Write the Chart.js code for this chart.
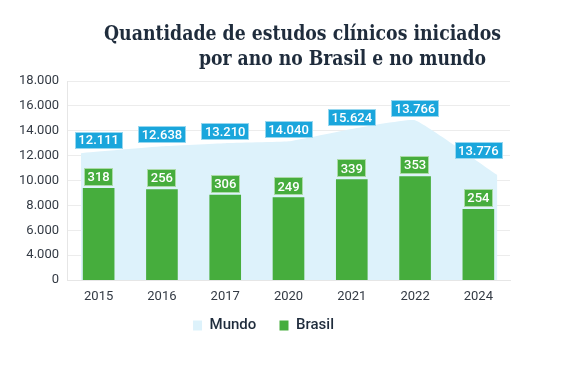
<!DOCTYPE html>
<html>
<head>
<meta charset="utf-8">
<script src="https://cdn.jsdelivr.net/npm/chart.js@4.4.1/dist/chart.umd.min.js"></script>
<style>
  html, body { margin: 0; padding: 0; background: #ffffff; }
  #wrap { position: relative; width: 567px; height: 378px; overflow: hidden; }
  #c { position: absolute; left: 0; top: 0; }
  .t { position: absolute; font-family: "DejaVu Serif", "Liberation Serif", serif; font-weight: bold;
       font-size: 21px; color: #1f2c3c; white-space: nowrap; line-height: 24px; }
</style>
</head>
<body>
<div id="wrap">
  <canvas id="c" width="567" height="378"></canvas>
  <div class="t" id="t1" style="left:104px; top:21px;">Quantidade de estudos clínicos iniciados</div>
  <div class="t" id="t2" style="left:199px; top:46px;">por ano no Brasil e no mundo</div>
</div>
<script>
// ---- data ----
const years = ['2015', '2016', '2017', '2020', '2021', '2022', '2024'];
const brasilBars = [9400, 9300, 8850, 8650, 10100, 10350, 7700];
const brasilLabels = ['318', '256', '306', '249', '339', '353', '254'];
const mundoArea = [12200, 12750, 13000, 13150, 14150, 14850, 10450];
const mundoAreaX = [-0.28, 1, 2, 3, 4, 5, 6.3];
const mundoLabels = ['12.111', '12.638', '13.210', '14.040', '15.624', '13.766', '13.776'];
const yTickValues = [2000, 4000, 6000, 8000, 10000, 12000, 14000, 16000, 18000];
const yTickLabels = ['0', '4.000', '6.000', '8.000', '10.000', '12.000', '14.000', '16.000', '18.000'];

const GREEN = '#46ad3d';
const BLUE = '#1aa6dc';
const AREA = '#ddf2fb';

// fit title widths
function fitWidth(id, w) {
  const el = document.getElementById(id);
  const cur = el.getBoundingClientRect().width;
  el.style.transformOrigin = '0 0';
  el.style.transform = 'scaleX(' + (w / cur) + ')';
}
fitWidth('t1', 397);
fitWidth('t2', 287);

const labelPlugin = {
  id: 'valueLabels',
  afterDatasetsDraw(chart) {
    const ctx = chart.ctx;
    const area = chart.getDatasetMeta(0).data;
    const bars = chart.getDatasetMeta(1).data;
    ctx.save();
    ctx.font = '500 13px Roboto, "Noto Sans", sans-serif';
    ctx.textAlign = 'center';
    ctx.textBaseline = 'middle';
    bars.forEach((bar, i) => {
      const cx = bar.x;
      // green label
      const gt = brasilLabels[i];
      const gw = ctx.measureText(gt).width + 7;
      const gh = 18;
      const gy = bar.y - 2 - gh;
      ctx.fillStyle = GREEN;
      ctx.fillRect(Math.round(cx - gw / 2), Math.round(gy), Math.round(gw), gh);
      ctx.strokeStyle = 'rgba(255,255,255,0.55)';
      ctx.lineWidth = 1;
      ctx.strokeRect(Math.round(cx - gw / 2) + 0.5, Math.round(gy) + 0.5, Math.round(gw) - 1, gh - 1);
      ctx.fillStyle = '#ffffff';
      ctx.fillText(gt, cx, gy + gh / 2 + 1);
      // blue label: anchored on the area edge at this category
      let ay = null;
      for (let k = 0; k < area.length - 1; k++) {
        const p = area[k], q = area[k + 1];
        if (cx >= p.x && cx <= q.x) {
          ay = p.y + (q.y - p.y) * (cx - p.x) / (q.x - p.x);
          break;
        }
      }
      if (ay === null) ay = area[i].y;
      const bt = mundoLabels[i];
      const bw = ctx.measureText(bt).width + 7;
      const bh = 17;
      const by = ay - 3 - bh;
      ctx.fillStyle = BLUE;
      ctx.fillRect(Math.round(cx - bw / 2), Math.round(by), Math.round(bw), bh);
      ctx.strokeStyle = 'rgba(255,255,255,0.55)';
      ctx.strokeRect(Math.round(cx - bw / 2) + 0.5, Math.round(by) + 0.5, Math.round(bw) - 1, bh - 1);
      ctx.fillStyle = '#ffffff';
      ctx.fillText(bt, cx, by + bh / 2 + 1);
    });
    ctx.restore();
  }
};

new Chart(document.getElementById('c'), {
  type: 'bar',
  data: {
    labels: years,
    datasets: [
      {
        type: 'line',
        label: 'Mundo',
        data: mundoArea.map((v, i) => ({ x: mundoAreaX[i], y: v })),
        xAxisID: 'xa',
        yAxisID: 'y',
        fill: 'start',
        backgroundColor: AREA,
        borderColor: AREA,
        borderWidth: 0,
        pointRadius: 0,
        tension: 0.1,
        order: 2
      },
      {
        type: 'bar',
        label: 'Brasil',
        data: brasilBars,
        xAxisID: 'x',
        yAxisID: 'y',
        backgroundColor: GREEN,
        borderColor: GREEN,
        borderWidth: 0,
        grouped: false,
        barPercentage: 0.5,
        categoryPercentage: 1.0,
        order: 1
      }
    ]
  },
  options: {
    responsive: false,
    animation: false,
    events: [],
    layout: { padding: { top: 81, left: 0, right: 40, bottom: 35 } },
    plugins: {
      tooltip: { enabled: false },
      title: { display: false },
      legend: {
        position: 'bottom',
        labels: {
          boxWidth: 9,
          boxHeight: 10,
          padding: 12,
          color: '#1f2c3c',
          generateLabels(chart) {
            const items = Chart.defaults.plugins.legend.labels.generateLabels(chart);
            items.sort((a, b) => a.datasetIndex - b.datasetIndex);
            items.forEach((it, k) => { if (k < items.length - 1) it.text = it.text + '   '; });
            return items;
          },
          font: { family: 'Roboto, "Noto Sans", sans-serif', size: 15, weight: '500' }
        }
      }
    },
    scales: {
      x: {
        type: 'category',
        offset: true,
        grid: { display: false, drawTicks: false },
        border: { display: true, color: '#e6e6e6' },
        ticks: { color: '#333a44', padding: 9, font: { family: 'Roboto, "Noto Sans", sans-serif', size: 13 } },
        afterFit(scale) { scale.height = 26; }
      },
      xa: {
        type: 'linear',
        display: false,
        offset: false,
        bounds: 'data',
        min: -0.5,
        max: 6.5,
        grid: { offset: false }
      },
      y: {
        type: 'linear',
        min: 2000,
        max: 18000,
        afterBuildTicks(scale) { scale.ticks = yTickValues.map(v => ({ value: v })); },
        afterFit(scale) { scale.width = 67; },
        grid: { color: '#ececec', drawTicks: false },
        border: { display: true, color: '#e6e6e6' },
        ticks: {
          color: '#333a44',
          padding: 8,
          font: { family: 'Roboto, "Noto Sans", sans-serif', size: 13 },
          callback(value) { const i = yTickValues.indexOf(value); return i >= 0 ? yTickLabels[i] : ''; }
        }
      },
      yR: {
        type: 'linear',
        position: 'right',
        display: true,
        grid: { display: false, drawTicks: false },
        border: { display: false },
        ticks: { display: false },
        afterFit(scale) { scale.width = 17; }
      }
    }
  },
  plugins: [labelPlugin]
});
</script>
</body>
</html>
